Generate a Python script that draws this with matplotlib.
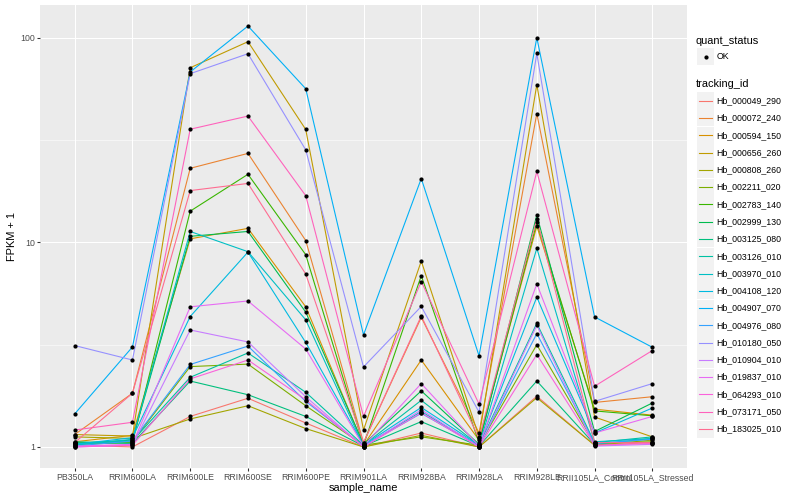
import numpy as np
import matplotlib
matplotlib.use("Agg")
import matplotlib.pyplot as plt
from matplotlib.patches import Rectangle
from matplotlib.lines import Line2D
from matplotlib.ticker import FixedLocator, NullFormatter

plt.rcParams['font.family'] = ['Liberation Sans', 'DejaVu Sans']

# ---------------- data ----------------
sample_names = ["PB350LA", "RRIM600LA", "RRIM600LE", "RRIM600SE", "RRIM600PE",
                "RRIM901LA", "RRIM928BA", "RRIM928LA", "RRIM928LE",
                "RRII105LA_Control", "RRII105LA_Stressed"]

tracking_ids = ["Hb_000049_290", "Hb_000072_240", "Hb_000594_150", "Hb_000656_260",
                "Hb_000808_260", "Hb_002211_020", "Hb_002783_140", "Hb_002999_130",
                "Hb_003125_080", "Hb_003126_010", "Hb_003970_010", "Hb_004108_120",
                "Hb_004907_070", "Hb_004976_080", "Hb_010180_050", "Hb_010904_010",
                "Hb_019837_010", "Hb_064293_010", "Hb_073171_050", "Hb_183025_010"]

hb_000049_290 = [1.02, 1.00, 1.41, 1.73, 1.31, 1.00, 1.17, 1.00, 1.77, 1.02, 1.05]
hb_000072_240 = [1.15, 1.83, 23.0, 27.2, 10.2, 1.05, 4.30, 1.17, 42.6, 1.65, 1.76]
hb_000594_150 = [1.06, 1.14, 10.4, 11.7, 4.84, 1.02, 2.66, 1.08, 12.0, 1.53, 1.43]
hb_000656_260 = [1.15, 1.13, 71.3, 95.6, 35.6, 1.21, 8.10, 1.12, 59.0, 1.40, 1.12]
hb_000808_260 = [1.12, 1.10, 1.37, 1.59, 1.23, 1.00, 1.14, 1.00, 1.74, 1.02, 1.08]
hb_002211_020 = [1.05, 1.06, 2.47, 2.54, 1.59, 1.02, 1.12, 1.02, 3.16, 1.04, 1.06]
hb_002783_140 = [1.03, 1.05, 14.2, 21.5, 8.70, 1.02, 6.87, 1.05, 12.5, 1.50, 1.42]
hb_002999_130 = [1.04, 1.08, 10.7, 11.3, 4.56, 1.03, 1.88, 1.03, 13.6, 1.19, 1.64]
hb_003125_080 = [1.06, 1.04, 2.10, 1.80, 1.41, 1.01, 1.33, 1.01, 2.10, 1.03, 1.10]
hb_003126_010 = [1.04, 1.07, 2.19, 2.88, 1.85, 1.02, 1.69, 1.02, 4.02, 1.05, 1.12]
hb_003970_010 = [1.02, 1.09, 11.3, 9.00, 4.18, 1.01, 1.49, 1.01, 9.35, 1.06, 1.10]
hb_004108_120 = [1.03, 1.11, 4.34, 8.96, 3.24, 1.02, 1.56, 1.02, 5.40, 1.17, 1.55]
hb_004907_070 = [1.45, 3.08, 68.0, 114.0, 56.3, 3.53, 20.5, 2.79, 100.0, 4.32, 3.07]
hb_004976_080 = [1.01, 1.07, 2.53, 3.11, 1.67, 1.01, 1.46, 1.01, 3.58, 1.04, 1.09]
hb_010180_050 = [3.13, 2.66, 66.7, 83.5, 28.3, 2.46, 4.86, 1.48, 83.8, 1.67, 2.04]
hb_010904_010 = [1.00, 1.02, 3.73, 3.26, 1.76, 1.00, 1.52, 1.00, 3.93, 1.01, 1.03]
hb_019837_010 = [1.01, 1.03, 4.84, 5.17, 3.01, 1.01, 2.04, 1.01, 6.27, 1.17, 1.41]
hb_064293_010 = [1.00, 1.02, 2.15, 2.66, 1.70, 1.00, 1.47, 1.00, 2.83, 1.02, 1.04]
hb_073171_050 = [1.21, 1.32, 35.7, 41.4, 16.9, 1.41, 6.43, 1.62, 22.2, 1.98, 2.96]
hb_183025_010 = [1.05, 1.83, 17.9, 19.4, 7.00, 1.05, 4.37, 1.10, 13.0, 1.05, 1.05]

series = [hb_000049_290, hb_000072_240, hb_000594_150, hb_000656_260, hb_000808_260,
          hb_002211_020, hb_002783_140, hb_002999_130, hb_003125_080, hb_003126_010,
          hb_003970_010, hb_004108_120, hb_004907_070, hb_004976_080, hb_010180_050,
          hb_010904_010, hb_019837_010, hb_064293_010, hb_073171_050, hb_183025_010]

colors = ["#F8766D", "#EA8331", "#D89000", "#C09B00", "#A3A500", "#7CAE00", "#39B600",
          "#00BB4E", "#00BF7D", "#00C1A3", "#00BFC4", "#00BAE0", "#00B0F6", "#35A2FF",
          "#9590FF", "#C77CFF", "#E76BF3", "#FA62DB", "#FF62BC", "#FF6C91"]

# ---------------- figure ----------------
W, H = 800, 500
DPI = 100
px = 72.0 / DPI  # points per pixel
fig = plt.figure(figsize=(W / DPI, H / DPI), dpi=DPI)
fig.patch.set_facecolor("white")

pl, pr, pt, pb = 40, 687, 5, 468
ax = fig.add_axes([pl / W, 1 - pb / H, (pr - pl) / W, (pb - pt) / H])
ax.set_facecolor("#EBEBEB")
for s in ax.spines.values():
    s.set_visible(False)

x = np.arange(len(sample_names))
lw = 1.1 * px
ms = 4.2 * px
for vals, c in zip(series, colors):
    ax.plot(x, vals, color=c, lw=lw, zorder=3, solid_joinstyle='round')
for vals in series:
    ax.plot(x, vals, ls='none', marker='o', ms=ms, mfc='black',
            mec='black', mew=0, zorder=4)

ax.set_yscale('log')
allv = np.log10(np.concatenate([np.asarray(v, float) for v in series]))
lo, hi = allv.min(), allv.max()
r = hi - lo
ax.set_ylim(10 ** (lo - 0.05 * r), 10 ** (hi + 0.05 * r))
ax.set_xlim(-0.6, len(sample_names) - 1 + 0.6)

ax.yaxis.set_major_locator(FixedLocator([1, 10, 100]))
ax.set_yticklabels(["1", "10", "100"])
ax.yaxis.set_minor_locator(FixedLocator([10 ** 0.5, 10 ** 1.5]))
ax.yaxis.set_minor_formatter(NullFormatter())
ax.set_xticks(x)
ax.set_xticklabels(sample_names)

ax.grid(True, which='major', color='white', lw=1.07 * px, zorder=1)
ax.grid(True, which='minor', axis='y', color='white', lw=0.53 * px, zorder=1)
ax.set_axisbelow(True)

ax.tick_params(axis='both', which='major', length=2.75 * px, width=1.07 * px,
               color='#333333', labelcolor='#4D4D4D', labelsize=8.8 * px, pad=2.2 * px)
ax.tick_params(axis='y', which='minor', length=0)

ax.set_xlabel("sample_name", fontsize=11 * px, color='black')
ax.set_ylabel("FPKM + 1", fontsize=11 * px, color='black')
ax.xaxis.set_label_coords(0.5, -(488 - pb) / (pb - pt))
ax.yaxis.set_label_coords(-(pl - 12) / (pr - pl), 0.5)
ax.xaxis.label.set_va('center')
ax.yaxis.label.set_va('center')

# ---------------- legend (drawn manually, ggplot style) ----------------
def fx(xp):
    return xp / W

def fy(yp):
    return 1 - yp / H

fig.text(fx(696), fy(40.7), "quant_status", fontsize=11 * px, va='center', ha='left')
fig.patches.append(Rectangle((fx(697), fy(65.2)), 17 / W, 17 / H, transform=fig.transFigure,
                             facecolor='#F2F2F2', edgecolor='none'))
fig.lines.append(Line2D([fx(705.5)], [fy(56.7)], transform=fig.transFigure, ls='none',
                        marker='o', ms=ms, mfc='black', mec='black', mew=0))
fig.text(fx(716.7), fy(56.7), "OK", fontsize=8.8 * px, va='center', ha='left')

fig.text(fx(696), fy(84.3), "tracking_id", fontsize=11 * px, va='center', ha='left')
y0, dy = 100.7, 17.28
for i, (tid, c) in enumerate(zip(tracking_ids, colors)):
    yc = y0 + i * dy
    fig.patches.append(Rectangle((fx(697), fy(yc + 8.5)), 17 / W, 17 / H,
                                 transform=fig.transFigure, facecolor='#F2F2F2',
                                 edgecolor='none'))
    fig.lines.append(Line2D([fx(698.7), fx(712.3)], [fy(yc), fy(yc)],
                            transform=fig.transFigure, color=c, lw=lw))
    fig.text(fx(716.7), fy(yc), tid, fontsize=8.8 * px, va='center', ha='left')

fig.savefig("out.png", dpi=DPI, facecolor='white')
